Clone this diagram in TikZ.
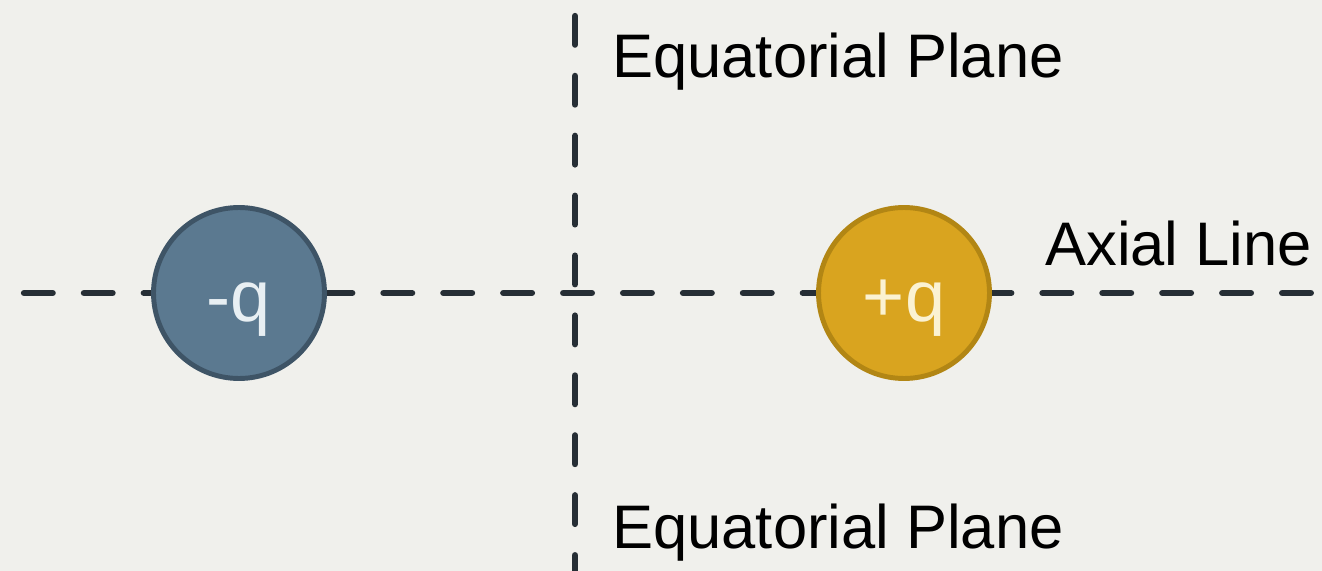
\documentclass[tikz,border=0pt]{standalone}
\usepackage{fontspec}
\setmainfont{Liberation Sans}
\definecolor{bgcol}{RGB}{240,240,236}
\definecolor{axiscol}{RGB}{38,46,53}
\definecolor{negfill}{RGB}{91,121,144}
\definecolor{negdraw}{RGB}{62,84,102}
\definecolor{negtext}{RGB}{232,239,243}
\definecolor{posfill}{RGB}{217,164,31}
\definecolor{posdraw}{RGB}{178,134,20}
\definecolor{postext}{RGB}{251,242,210}

\begin{document}
\begin{tikzpicture}[x=0.02cm,y=-0.02cm,
	axis/.style={draw=axiscol, line width=3.6pt, line cap=round, dash pattern=on 16.3pt off 17.8pt},
	charge/.style={circle, line width=2.8pt, minimum size=3.42cm, inner sep=0pt, text height=33pt, text depth=0pt, font=\fontsize{41}{48}\selectfont},
	tag/.style={anchor=base west, inner sep=0pt, font=\fontsize{35}{42}\selectfont}]
	\fill[bgcol] (0,0) rectangle (1322,571);
	\useasboundingbox (0,0) rectangle (1322,571);
	\coordinate (l) at (24,293);
	\coordinate (r) at (1340,293);
	\coordinate (t) at (575,16);
	\coordinate (b) at (575,590);
	\draw[axis] (l) -- (r);
	\draw[axis] (t) -- (b);
	\node[charge, fill=negfill, draw=negdraw, text=negtext] (neg) at (239,293) {-q};
	\node[charge, fill=posfill, draw=posdraw, text=postext] (pos) at (904,293) {+q};
	\node[tag] (eqtop) at (612,78) {Equatorial Plane};
	\node[tag] (eqbot) at (612,548) {Equatorial Plane};
	\node[tag] (axial) at (1045,265) {Axial Line};
\end{tikzpicture}
\end{document}
